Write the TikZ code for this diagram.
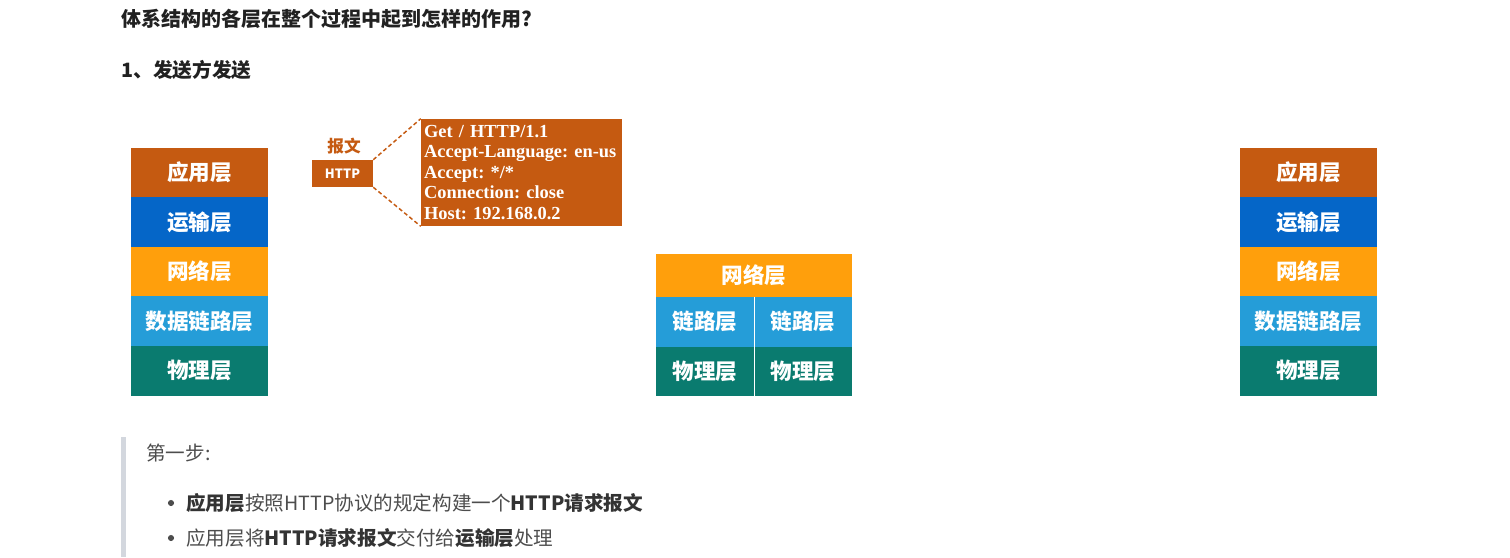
\documentclass[tikz,border=0pt]{standalone}
\usepackage{fontspec}
\setmainfont{Noto Sans CJK SC}
\newfontfamily\msgfont{Liberation Serif}
\usepackage{xcolor}
\usepackage{tikz}

\definecolor{appcol}{HTML}{C55A11}
\definecolor{transcol}{HTML}{0566C8}
\definecolor{netcol}{HTML}{FF9F0C}
\definecolor{linkcol}{HTML}{259DD8}
\definecolor{physcol}{HTML}{0A7B6F}
\definecolor{bodytext}{HTML}{4D4D4D}
\definecolor{boldtext}{HTML}{333333}
\definecolor{quotebar}{HTML}{D3D7DE}

\begin{document}
\frenchspacing
\begin{tikzpicture}[x=0.75pt, y=-0.75pt,
  every node/.style={inner sep=0pt},
  layer/.style={minimum width=102.75pt, minimum height=37.3pt, text=white, font=\bfseries\fontsize{16.2}{17}\selectfont},
  sublayer/.style={layer, minimum width=73.5pt},
  line/.style={anchor=west, text=bodytext, font=\fontsize{14.7}{16}\selectfont},
  dot/.style={circle, fill=bodytext, minimum size=4.6pt}]

\useasboundingbox[fill=white] (0,0) rectangle (1510,557);

% Headings
\node[anchor=west, text=black!87, font=\bfseries\fontsize{15}{17}\selectfont] (title) at (121,19) {体系结构的各层在整个过程中起到怎样的作用?};
\node[anchor=west, text=black!87, font=\bfseries\fontsize{14.8}{17}\selectfont] (step) at (121,70) {1、发送方发送};

% Sender stack
\node[layer, fill=appcol] (sapp) at (199.5,172.5) {应用层};
\node[layer, fill=transcol] (strans) at (199.5,222.1) {运输层};
\node[layer, fill=netcol] (snet) at (199.5,271.7) {网络层};
\node[layer, fill=linkcol] (slink) at (199.5,321.3) {数据链路层};
\node[layer, fill=physcol] (sphys) at (199.5,370.9) {物理层};

% Router
\node[layer, fill=netcol, minimum width=147pt, minimum height=32.25pt] (rnet) at (754,275.5) {网络层};
\node[sublayer, fill=linkcol] (rlink1) at (705,321.8) {链路层};
\node[sublayer, fill=linkcol] (rlink2) at (803,321.8) {链路层};
\node[sublayer, fill=physcol] (rphys1) at (705,371.4) {物理层};
\node[sublayer, fill=physcol] (rphys2) at (803,371.4) {物理层};

% Receiver stack
\node[layer, fill=appcol] (rapp) at (1308.5,172.5) {应用层};
\node[layer, fill=transcol] (rtrans) at (1308.5,222.1) {运输层};
\node[layer, fill=netcol] (rnet2) at (1308.5,271.7) {网络层};
\node[layer, fill=linkcol] (rlinkr) at (1308.5,321.3) {数据链路层};
\node[layer, fill=physcol] (rphysr) at (1308.5,370.9) {物理层};

% Message
\node[fill=appcol, minimum width=45.75pt, minimum height=20.25pt, text=white, font=\bfseries\fontsize{9.6}{10}\selectfont] (http) at (342.5,173.5) {HTTP};
\node[text=appcol, font=\bfseries\fontsize{12.5}{13}\selectfont] (msglabel) at (344,146) {报文};
\node[fill=appcol, minimum width=150.75pt, minimum height=80.25pt, text width=146pt, align=left, text=white, font=\msgfont\bfseries\fontsize{13.8}{15.4}\selectfont] (msg) at (521.5,172.5) {Get / HTTP/1.1\\Accept-Language: en-us\\Accept: */*\\Connection: close\\Host: 192.168.0.2};

%Lines
\draw[white, line width=0.75pt] (rlink1.north east) -- (rphys1.south east);
\draw[appcol, dash pattern=on 3pt off 2pt, line width=1.1pt] (http.north east) -- (msg.north west);
\draw[appcol, dash pattern=on 3pt off 2pt, line width=1.1pt] (http.south east) -- (msg.south west);

% Notes
\fill[quotebar] (121,437) rectangle (126,557);
\node[line] (first) at (146,453) {第一步:};
\node[dot] (dot1) at (171,503) {};
\node[line] (item1) at (186,503) {\textcolor{boldtext}{\bfseries 应用层}按照HTTP协议的规定构建一个\textcolor{boldtext}{\bfseries HTTP请求报文}};
\node[dot] (dot2) at (171,538) {};
\node[line] (item2) at (186,538) {应用层将\textcolor{boldtext}{\bfseries HTTP请求报文}交付给\textcolor{boldtext}{\bfseries 运输层}处理};
\end{tikzpicture}
\end{document}
